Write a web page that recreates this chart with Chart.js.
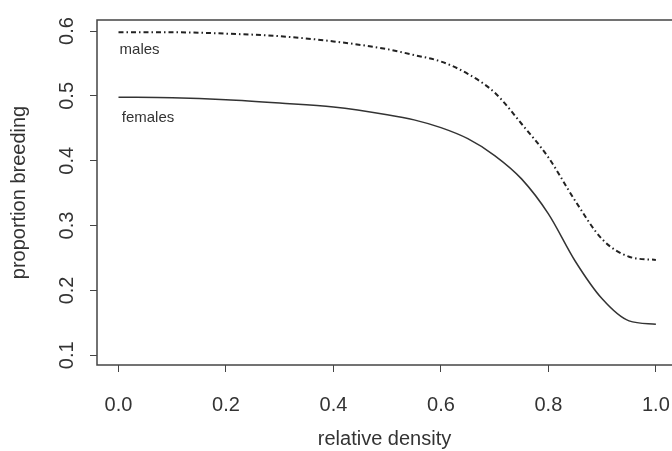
<!DOCTYPE html>
<html>
<head>
<meta charset="utf-8">
<script src="https://cdn.jsdelivr.net/npm/chart.js@4/dist/chart.umd.min.js"></script>
<style>
    html, body { margin: 0; padding: 0; background: #fff; overflow: hidden; }
    #wrap { width: 672px; height: 451px; }
</style>
</head>
<body>
<div id="wrap"><canvas id="chartfield" width="672" height="451"></canvas></div>
<script>
// relative density (x) and proportion breeding for each sex
const density = [0.0, 0.1, 0.2, 0.3, 0.4, 0.5, 0.55, 0.6, 0.65, 0.7, 0.75, 0.8, 0.85, 0.9, 0.95, 1.0];
const males = [0.598, 0.598, 0.596, 0.592, 0.584, 0.572, 0.563, 0.553, 0.534, 0.505, 0.457, 0.405, 0.338, 0.279, 0.252, 0.247];
const females = [0.498, 0.497, 0.494, 0.489, 0.483, 0.471, 0.463, 0.451, 0.434, 0.408, 0.372, 0.318, 0.245, 0.187, 0.153, 0.148];

const xTicks = [0.0, 0.2, 0.4, 0.6, 0.8, 1.0];
const yTicks = [0.1, 0.2, 0.3, 0.4, 0.5, 0.6];

// in-plot curve labels: [text, x, y] in data units
const curveLabels = [
    ["males", 0.002, 0.571],
    ["females", 0.006, 0.466],
];

const FONT = "'Liberation Sans', Arial, Helvetica, sans-serif";
const INK = "#333";

function toPoints(xs, ys) {
    return xs.map((x, i) => ({ x: x, y: ys[i] }));
}

const boxPlugin = {
    id: "box",
    afterDraw(chart) {
        const ctx = chart.ctx;
        const a = chart.chartArea;
        ctx.save();
        ctx.strokeStyle = "#444";
        ctx.lineWidth = 1.5;
        ctx.strokeRect(a.left, a.top, a.right - a.left + 10, a.bottom - a.top);

        ctx.fillStyle = INK;
        ctx.font = "15px " + FONT;
        ctx.textAlign = "left";
        ctx.textBaseline = "middle";
        const sx = chart.scales.x;
        const sy = chart.scales.y;
        curveLabels.forEach(([txt, x, y]) => {
            ctx.fillText(txt, sx.getPixelForValue(x), sy.getPixelForValue(y));
        });
        ctx.restore();
    },
};

function drawChart(canvas) {
    return new Chart(canvas, {
        type: "line",
        data: {
            datasets: [
                {
                    label: "males",
                    data: toPoints(density, males),
                    borderColor: "#222",
                    borderWidth: 2,
                    borderDash: [5, 3, 1.5, 3],
                    pointRadius: 0,
                    cubicInterpolationMode: "monotone",
                    fill: false,
                },
                {
                    label: "females",
                    data: toPoints(density, females),
                    borderColor: "#333",
                    borderWidth: 1.5,
                    pointRadius: 0,
                    cubicInterpolationMode: "monotone",
                    fill: false,
                },
            ],
        },
        options: {
            responsive: false,
            animation: false,
            layout: { padding: { top: 20, right: 0, left: 0, bottom: 0 } },
            plugins: {
                legend: { display: false },
                tooltip: { enabled: false },
            },
            scales: {
                x: {
                    type: "linear",
                    min: -0.04,
                    max: 1.03,
                    afterBuildTicks: (scale) => {
                        scale.ticks = xTicks.map((v) => ({ value: v }));
                    },
                    afterFit: (scale) => {
                        scale.height = 86;
                        scale.paddingLeft = 0;
                        scale.paddingRight = 0;
                    },
                    border: { display: false },
                    grid: {
                        drawOnChartArea: false,
                        drawTicks: true,
                        tickLength: 7,
                        color: "#444",
                        lineWidth: 1,
                    },
                    ticks: {
                        color: INK,
                        font: { family: FONT, size: 20 },
                        padding: 21,
                        maxRotation: 0,
                        callback: (v) => Number(v).toFixed(1),
                    },
                    title: {
                        display: true,
                        text: "relative density",
                        color: INK,
                        font: { family: FONT, size: 20 },
                        padding: { top: 0, bottom: 0 },
                    },
                },
                y: {
                    type: "linear",
                    min: 0.085,
                    max: 0.617,
                    afterBuildTicks: (scale) => {
                        scale.ticks = yTicks.map((v) => ({ value: v }));
                    },
                    afterFit: (scale) => {
                        scale.width = 97;
                        scale.paddingTop = 0;
                        scale.paddingBottom = 0;
                    },
                    border: { display: false },
                    grid: {
                        drawOnChartArea: false,
                        drawTicks: true,
                        tickLength: 7,
                        color: "#444",
                        lineWidth: 1,
                    },
                    ticks: {
                        color: INK,
                        font: { family: FONT, size: 20 },
                        minRotation: 90,
                        maxRotation: 90,
                        crossAlign: "center",
                        padding: 9,
                        callback: (v) => Number(v).toFixed(1),
                    },
                    title: {
                        display: true,
                        text: "proportion breeding",
                        color: INK,
                        font: { family: FONT, size: 20 },
                        padding: { top: 7, bottom: 0 },
                    },
                },
            },
        },
        plugins: [boxPlugin],
    });
}

document.addEventListener("DOMContentLoaded", () => {
    const canvas = document.querySelector("#chartfield").getContext("2d");
    drawChart(canvas);
});
</script>
</body>
</html>
